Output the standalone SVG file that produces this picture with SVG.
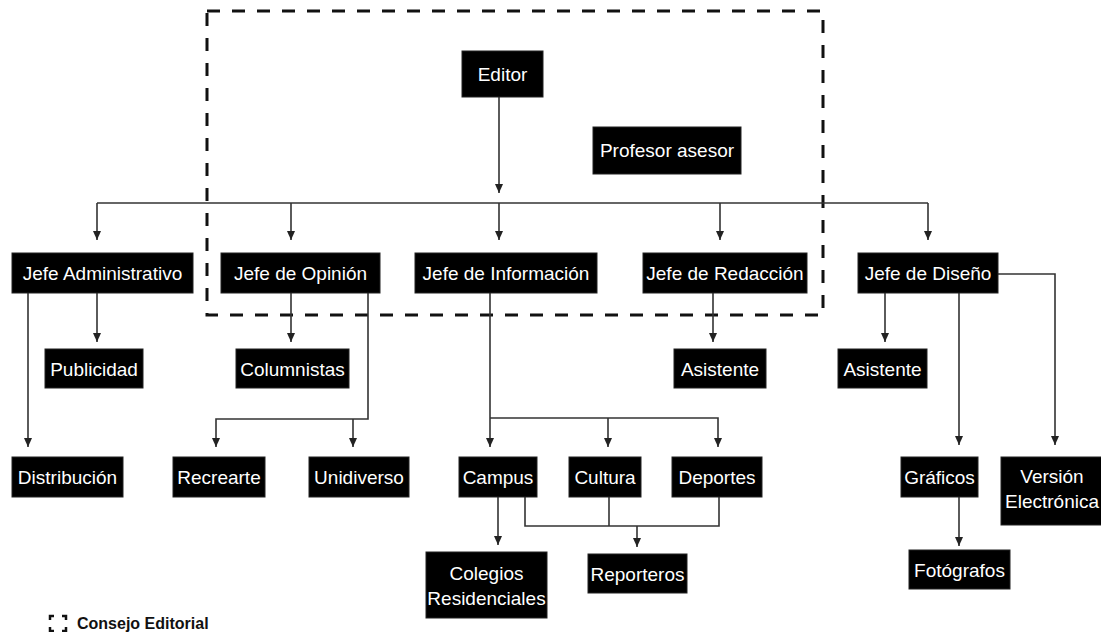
<svg xmlns="http://www.w3.org/2000/svg" width="1101" height="632" viewBox="0 0 1101 632">
<style>
.n rect{fill:#000;stroke:#222;stroke-width:1}
.n text{fill:#fff;font-family:"Liberation Sans",Arial,sans-serif;font-size:19px;text-anchor:middle}
#connectors path{fill:none;stroke:#333;stroke-width:1.6}
.arr{marker-end:url(#ah)}
.legend{font-family:"Liberation Sans",Arial,sans-serif;font-size:16px;font-weight:bold;fill:#111}
</style>
<defs>
<marker id="ah" markerWidth="10" markerHeight="8" refX="9" refY="4" orient="auto" markerUnits="userSpaceOnUse" viewBox="0 0 10 8">
<path d="M0,0 L9,4 L0,8 Z" fill="#222"/>
</marker>
</defs>
<rect width="1101" height="632" fill="#fff"/>
<g id="consejo-editorial-frame">
<rect x="207" y="11" width="616" height="304" fill="none" stroke="#111" stroke-width="3" stroke-dasharray="13 12"/>
</g>
<g id="connectors">
<path class="arr" d="M499,97 V193"/>
<path d="M97,203 H928"/>
<path class="arr" d="M97,203 V240"/>
<path class="arr" d="M291,203 V240"/>
<path class="arr" d="M499,203 V240"/>
<path class="arr" d="M720,203 V240"/>
<path class="arr" d="M928,203 V240"/>
<path class="arr" d="M28,293 V447"/>
<path class="arr" d="M97,293 V342"/>
<path class="arr" d="M291,293 V342"/>
<path class="arr" d="M368,293 V419 H216 V447"/>
<path class="arr" d="M353,419 V447"/>
<path class="arr" d="M490,293 V447"/>
<path class="arr" d="M490,418 H718 V447"/>
<path class="arr" d="M608,418 V447"/>
<path class="arr" d="M498,497 V545"/>
<path d="M525,497 V526 H719 V497"/>
<path d="M609,497 V526"/>
<path class="arr" d="M637,526 V547"/>
<path class="arr" d="M713,293 V342"/>
<path class="arr" d="M885,293 V342"/>
<path class="arr" d="M959,293 V445"/>
<path class="arr" d="M998,274 H1055 V445"/>
<path class="arr" d="M959,497 V546"/>
</g>
<g id="editor" class="n"><rect x="462" y="51" width="81" height="46"/><text x="502.5" y="81">Editor</text></g>
<g id="profesor-asesor" class="n"><rect x="593" y="127" width="148" height="47"/><text x="667" y="157">Profesor asesor</text></g>
<g id="jefe-administrativo" class="n"><rect x="12" y="253" width="181" height="40"/><text x="102.5" y="280">Jefe Administrativo</text></g>
<g id="jefe-opinion" class="n"><rect x="221" y="253" width="159" height="40"/><text x="300.5" y="280">Jefe de Opinión</text></g>
<g id="jefe-informacion" class="n"><rect x="415" y="253" width="182" height="40"/><text x="506" y="280">Jefe de Información</text></g>
<g id="jefe-redaccion" class="n"><rect x="643" y="253" width="164" height="40"/><text x="725" y="280">Jefe de Redacción</text></g>
<g id="jefe-diseno" class="n"><rect x="858" y="253" width="140" height="40"/><text x="928" y="280">Jefe de Diseño</text></g>
<g id="publicidad" class="n"><rect x="45" y="349" width="98" height="39"/><text x="94" y="375.5">Publicidad</text></g>
<g id="columnistas" class="n"><rect x="236" y="349" width="113" height="39"/><text x="292.5" y="375.5">Columnistas</text></g>
<g id="asistente-redaccion" class="n"><rect x="674" y="349" width="92" height="39"/><text x="720" y="375.5">Asistente</text></g>
<g id="asistente-diseno" class="n"><rect x="838" y="349" width="89" height="39"/><text x="882.5" y="375.5">Asistente</text></g>
<g id="distribucion" class="n"><rect x="12" y="457" width="111" height="40"/><text x="67.5" y="484">Distribución</text></g>
<g id="recrearte" class="n"><rect x="173" y="457" width="92" height="40"/><text x="219" y="484">Recrearte</text></g>
<g id="unidiverso" class="n"><rect x="309" y="457" width="100" height="40"/><text x="359" y="484">Unidiverso</text></g>
<g id="campus" class="n"><rect x="459" y="457" width="78" height="40"/><text x="498" y="484">Campus</text></g>
<g id="cultura" class="n"><rect x="569" y="457" width="72" height="40"/><text x="605" y="484">Cultura</text></g>
<g id="deportes" class="n"><rect x="672" y="457" width="90" height="40"/><text x="717" y="484">Deportes</text></g>
<g id="graficos" class="n"><rect x="901" y="457" width="77" height="40"/><text x="939.5" y="484">Gráficos</text></g>
<g id="version-electronica" class="n"><rect x="1001" y="457" width="110" height="68"/><text x="1052" y="483">Versión</text><text x="1052" y="508">Electrónica</text></g>
<g id="colegios-residenciales" class="n"><rect x="426" y="552" width="121" height="66"/><text x="486.5" y="580">Colegios</text><text x="486.5" y="605">Residenciales</text></g>
<g id="reporteros" class="n"><rect x="588" y="554" width="99" height="39"/><text x="637.5" y="580.5">Reporteros</text></g>
<g id="fotografos" class="n"><rect x="909" y="550" width="101" height="39"/><text x="959.5" y="576.5">Fotógrafos</text></g>
<g id="legend">
<path d="M50,620 V616 H54 M62,616 H66 V620 M66,627 V631 H62 M54,631 H50 V627" fill="none" stroke="#111" stroke-width="2.5"/>
<text class="legend" x="77" y="629">Consejo Editorial</text>
</g>
</svg>
